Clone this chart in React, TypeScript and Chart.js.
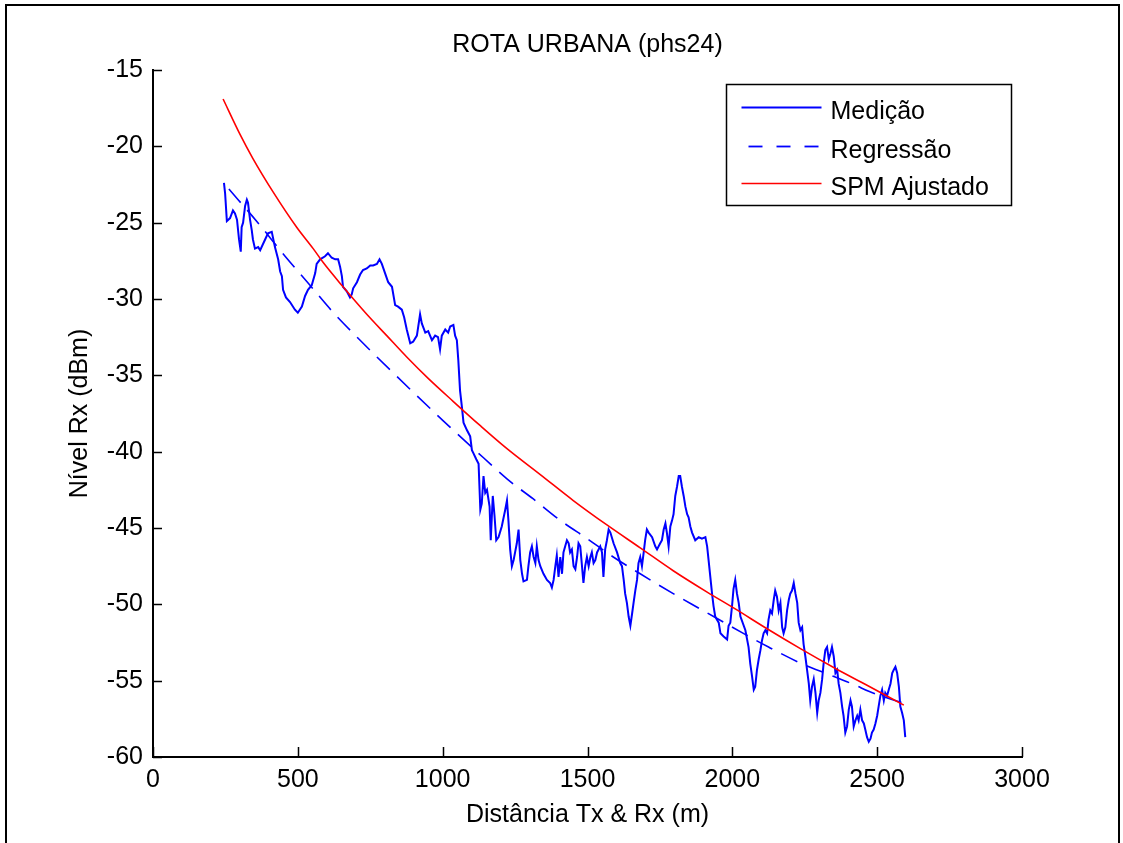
import React, { useEffect, useRef } from "react";
import { Chart, registerables } from "chart.js";

Chart.register(...registerables);

const FONT = '"Liberation Sans", Arial, Helvetica, sans-serif';

const TITLE = "ROTA URBANA (phs24)";
const X_TITLE = "Distância Tx & Rx (m)";
const Y_TITLE = "Nível Rx (dBm)";
const SERIES_NAMES = ["Medição", "Regressão", "SPM Ajustado"];

const X_MIN = 0, X_MAX = 3000, X_STEP = 500;
const Y_MIN = -60, Y_MAX = -15, Y_STEP = 5;

// Medição (measured) — distance (m)
const medDist = [
  245, 249, 255, 266, 276, 283, 290, 297, 303, 306,
  311, 318, 324, 328, 335, 341, 345, 352, 363, 370,
  387, 397, 410, 421, 432, 439, 445, 449, 459, 473,
  490, 500, 514, 525, 535, 548, 560, 565, 577, 594,
  604, 617, 629, 639, 646, 652, 656, 669, 680, 686,
  691, 704, 715, 725, 738, 750, 760, 773, 782, 790,
  801, 812, 825, 836, 846, 859, 867, 876, 888, 898,
  911, 922, 928, 940, 950, 963, 974, 984, 991, 997,
  1009, 1019, 1026, 1037, 1043, 1049, 1054, 1060, 1066, 1072,
  1084, 1095, 1101, 1106, 1116, 1124, 1130, 1135, 1141, 1147,
  1153, 1162, 1166, 1173, 1179, 1185, 1193, 1204, 1216, 1222,
  1227, 1233, 1239, 1245, 1250, 1256, 1262, 1268, 1274, 1279,
  1291, 1296, 1302, 1308, 1314, 1320, 1325, 1331, 1337, 1348,
  1360, 1371, 1377, 1383, 1389, 1394, 1400, 1406, 1412, 1417,
  1423, 1429, 1435, 1440, 1446, 1452, 1458, 1464, 1469, 1475,
  1481, 1486, 1492, 1498, 1504, 1510, 1515, 1521, 1527, 1533,
  1544, 1550, 1555, 1561, 1567, 1573, 1579, 1590, 1602, 1613,
  1619, 1625, 1630, 1636, 1642, 1648, 1654, 1659, 1665, 1671,
  1676, 1682, 1688, 1694, 1699, 1705, 1711, 1723, 1734, 1740,
  1751, 1757, 1763, 1769, 1774, 1780, 1786, 1792, 1797, 1803,
  1809, 1815, 1820, 1826, 1832, 1838, 1844, 1849, 1855, 1861,
  1872, 1884, 1895, 1907, 1913, 1918, 1924, 1930, 1935, 1941,
  1953, 1959, 1970, 1982, 1987, 1993, 1999, 2004, 2010, 2016,
  2022, 2028, 2045, 2056, 2062, 2068, 2074, 2079, 2085, 2091,
  2097, 2102, 2108, 2114, 2120, 2125, 2131, 2137, 2143, 2148,
  2154, 2160, 2166, 2172, 2177, 2183, 2189, 2195, 2200, 2206,
  2212, 2218, 2224, 2229, 2235, 2241, 2246, 2252, 2258, 2264,
  2269, 2275, 2281, 2287, 2293, 2298, 2304, 2310, 2315, 2321,
  2327, 2333, 2339, 2344, 2350, 2356, 2362, 2367, 2373, 2379,
  2384, 2390, 2396, 2402, 2408, 2413, 2419, 2425, 2431, 2436,
  2442, 2448, 2454, 2459, 2465, 2471, 2477, 2482, 2488, 2494,
  2500, 2505, 2511, 2517, 2523, 2528, 2534, 2540, 2546, 2552,
  2557, 2563, 2569, 2575, 2580, 2586, 2592, 2597,
];

// Medição — level (dBm)
const medLevel = [
  -22.4, -23.1, -24.9, -24.7, -24.2, -24.4, -24.8, -26.1, -26.9, -25.3,
  -25.0, -23.9, -23.5, -23.7, -24.8, -25.5, -26.1, -26.7, -26.6, -26.8,
  -26.1, -25.7, -25.6, -26.6, -27.4, -28.2, -28.5, -29.4, -29.9, -30.2,
  -30.7, -30.9, -30.5, -29.8, -29.4, -29.1, -28.3, -27.7, -27.4, -27.2,
  -27.0, -27.3, -27.4, -27.4, -27.9, -28.5, -29.2, -29.5, -29.9, -29.7,
  -29.3, -28.9, -28.4, -28.1, -28.0, -27.8, -27.8, -27.7, -27.4, -27.7,
  -28.3, -28.9, -29.2, -30.4, -30.5, -30.7, -31.2, -32.0, -32.9, -32.8,
  -32.4, -31.0, -31.6, -32.2, -32.1, -32.7, -32.4, -32.5, -33.3, -32.4,
  -32.0, -32.2, -31.8, -31.7, -32.4, -32.7, -34.0, -36.0, -37.0, -38.1,
  -38.6, -39.0, -39.9, -40.1, -40.5, -40.8, -43.8, -43.4, -41.6, -42.7,
  -42.5, -43.6, -45.8, -42.9, -44.2, -45.8, -45.6, -44.9, -43.8, -43.2,
  -44.5, -46.4, -47.5, -47.1, -46.6, -46.0, -45.1, -47.1, -48.0, -48.5,
  -48.4, -47.5, -46.6, -46.2, -46.9, -47.3, -46.2, -47.1, -47.5, -48.0,
  -48.4, -48.6, -48.9, -48.4, -47.5, -46.8, -48.2, -46.9, -48.0, -46.6,
  -46.2, -45.8, -46.0, -46.6, -46.4, -47.5, -47.7, -46.9, -46.0, -46.2,
  -47.5, -48.6, -47.5, -46.9, -47.5, -46.9, -46.6, -47.3, -47.1, -46.6,
  -46.2, -46.6, -48.2, -46.4, -45.8, -45.1, -45.3, -46.0, -46.6, -47.3,
  -47.5, -48.4, -49.3, -49.9, -50.8, -51.4, -50.6, -49.9, -49.1, -48.4,
  -47.3, -46.9, -47.5, -46.6, -45.8, -45.1, -45.3, -45.6, -46.2, -46.4,
  -46.0, -45.8, -45.1, -44.7, -45.3, -46.2, -44.9, -44.5, -44.1, -42.9,
  -42.3, -41.6, -41.6, -42.3, -42.9, -43.6, -44.1, -44.3, -44.9, -45.3,
  -45.8, -45.6, -45.7, -45.6, -46.2, -47.1, -48.2, -49.3, -50.1, -50.8,
  -51.2, -51.9, -52.1, -52.3, -51.4, -51.2, -50.1, -49.0, -48.4, -49.3,
  -49.9, -50.8, -51.7, -52.8, -53.9, -54.7, -55.6, -55.4, -54.3, -53.6,
  -53.0, -52.4, -51.9, -51.7, -51.9, -51.0, -50.4, -50.6, -49.7, -49.1,
  -49.5, -50.4, -49.9, -51.5, -51.9, -51.5, -50.4, -49.7, -49.3, -49.1,
  -48.6, -49.3, -49.9, -51.2, -51.7, -51.5, -52.6, -53.4, -54.3, -55.2,
  -56.3, -55.4, -54.9, -55.8, -57.1, -56.3, -55.8, -54.9, -53.9, -53.0,
  -52.8, -53.6, -53.2, -52.8, -53.4, -54.5, -54.3, -55.2, -55.8, -56.7,
  -57.3, -58.4, -58.0, -56.9, -56.3, -56.7, -58.0, -57.6, -57.3, -57.6,
  -56.9, -57.6, -57.8, -58.2, -58.7, -59.0, -58.8, -58.4, -58.2, -57.8,
  -57.3, -56.7, -56.0, -55.6, -56.3, -55.8, -56.0, -55.6, -55.2, -54.5,
  -54.3, -54.1, -54.5, -55.4, -56.7, -57.1, -57.6, -58.7,
];

// Regressão (dashed)
const regDist = [
  262, 362, 456, 542, 623, 715, 773, 1003, 1060, 1141,
  1223, 1313, 1406, 1499, 1589, 1682, 1796, 1889, 2038, 2125,
  2241, 2333, 2425, 2471, 2595,
];
const regLevel = [
  -22.8, -25.0, -27.2, -29.1, -30.9, -32.7, -33.8, -38.0, -39.0, -40.4,
  -41.8, -43.1, -44.5, -45.7, -46.9, -48.0, -49.3, -50.3, -51.9, -52.8,
  -53.9, -54.6, -55.3, -55.7, -56.5,
];

// SPM Ajustado (red)
const spmDist = [
  242, 300, 345, 415, 496, 553, 587, 656, 738, 807,
  876, 950, 1036, 1130, 1222, 1337, 1451, 1567, 1682, 1796,
  1913, 2010, 2120, 2235, 2356, 2465, 2592,
];
const spmLevel = [
  -16.9, -19.2, -20.8, -23.0, -25.3, -26.7, -27.6, -29.2, -31.0, -32.4,
  -33.8, -35.2, -36.7, -38.3, -39.8, -41.5, -43.2, -44.8, -46.3, -47.8,
  -49.2, -50.3, -51.6, -52.9, -54.2, -55.3, -56.6,
];

const COLORS = ["#0000ff", "#0000ff", "#ff0000"];

function pairs(xs: number[], ys: number[]) {
  const n = Math.min(xs.length, ys.length);
  const out: { x: number; y: number }[] = [];
  for (let i = 0; i < n; i++) out.push({ x: xs[i], y: ys[i] });
  return out;
}

const decorPlugin = {
  id: "matlabDecor",
  afterDraw(chart: any) {
    const ctx = chart.ctx as CanvasRenderingContext2D;
    const { left, right, top, bottom } = chart.chartArea;
    const xs = chart.scales.x;
    const ys = chart.scales.y;
    ctx.save();

    // inward tick marks
    ctx.strokeStyle = "#000";
    ctx.lineWidth = 1.5;
    ctx.beginPath();
    xs.ticks.forEach((t: any) => {
      const px = Math.round(xs.getPixelForValue(t.value)) + 0.5;
      ctx.moveTo(px, bottom);
      ctx.lineTo(px, bottom - 10);
    });
    ys.ticks.forEach((t: any) => {
      const py = Math.round(ys.getPixelForValue(t.value)) + 0.5;
      ctx.moveTo(left, py);
      ctx.lineTo(left + 9, py);
    });
    ctx.stroke();

    // titles
    ctx.fillStyle = "#000";
    ctx.font = `25px ${FONT}`;
    ctx.textAlign = "center";
    ctx.textBaseline = "alphabetic";
    ctx.fillText(TITLE, (left + right) / 2, 52);
    ctx.fillText(X_TITLE, (left + right) / 2, 822);
    ctx.save();
    ctx.translate(87, (top + bottom) / 2);
    ctx.rotate(-Math.PI / 2);
    ctx.fillText(Y_TITLE, 0, 0);
    ctx.restore();

    // legend
    const bx = right - 295.5;
    const by = top + 14.5;
    const bw = 285;
    const bh = 121;
    ctx.fillStyle = "#fff";
    ctx.fillRect(bx, by, bw, bh);
    ctx.strokeStyle = "#000";
    ctx.lineWidth = 1.5;
    ctx.strokeRect(bx, by, bw, bh);
    const rowY = [by + 23, by + 62, by + 99];
    const lineX0 = bx + 15;
    const lineX1 = bx + 95;
    ctx.font = `25px ${FONT}`;
    ctx.textAlign = "left";
    ctx.textBaseline = "alphabetic";
    SERIES_NAMES.forEach((name, i) => {
      ctx.strokeStyle = COLORS[i];
      ctx.lineWidth = i === 2 ? 1.5 : 1.8;
      ctx.setLineDash(i === 1 ? [14, 14] : []);
      ctx.lineDashOffset = i === 1 ? -7 : 0;
      ctx.beginPath();
      ctx.moveTo(lineX0, rowY[i]);
      ctx.lineTo(lineX1, rowY[i]);
      ctx.stroke();
      ctx.setLineDash([]);
      ctx.fillStyle = "#000";
      ctx.fillText(name, bx + 104, rowY[i] + 11);
    });

    // outer frame
    ctx.strokeStyle = "#000";
    ctx.lineWidth = 2;
    ctx.strokeRect(6, 5, 1113, 900);
    ctx.restore();
  },
};

export default function App() {
  const ref = useRef<HTMLCanvasElement | null>(null);

  useEffect(() => {
    if (!ref.current) return;
    const tickFont = { family: FONT, size: 25 };
    const chart = new Chart(ref.current, {
      type: "scatter",
      data: {
        datasets: [
          {
            label: SERIES_NAMES[0],
            data: pairs(medDist, medLevel),
            showLine: true,
            borderColor: COLORS[0],
            borderWidth: 2,
            pointRadius: 0,
            fill: false,
            tension: 0,
            order: 3,
          },
          {
            label: SERIES_NAMES[1],
            data: pairs(regDist, regLevel),
            showLine: true,
            borderColor: COLORS[1],
            borderWidth: 1.6,
            borderDash: [18, 10],
            pointRadius: 0,
            fill: false,
            cubicInterpolationMode: "monotone",
            order: 2,
          },
          {
            label: SERIES_NAMES[2],
            data: pairs(spmDist, spmLevel),
            showLine: true,
            borderColor: COLORS[2],
            borderWidth: 1.6,
            pointRadius: 0,
            fill: false,
            cubicInterpolationMode: "monotone",
            order: 1,
          },
        ],
      },
      options: {
        animation: false,
        responsive: false,
        devicePixelRatio: 1,
        layout: { padding: { top: 70, right: 101, left: 0, bottom: 0 } },
        plugins: {
          legend: { display: false },
          title: { display: false },
          tooltip: { enabled: false },
        },
        scales: {
          x: {
            type: "linear",
            min: X_MIN,
            max: X_MAX,
            grid: { display: false, drawTicks: false },
            border: { display: true, color: "#000", width: 2 },
            ticks: {
              stepSize: X_STEP,
              autoSkip: false,
              maxRotation: 0,
              padding: 8,
              color: "#000",
              font: tickFont,
              callback: (v: any) => String(v),
            },
            afterFit: (s: any) => {
              s.height = 86;
            },
          },
          y: {
            type: "linear",
            min: Y_MIN,
            max: Y_MAX,
            grid: { display: false, drawTicks: false },
            border: { display: true, color: "#000", width: 2 },
            ticks: {
              stepSize: Y_STEP,
              autoSkip: false,
              padding: 10,
              color: "#000",
              font: tickFont,
              callback: (v: any) => String(v),
            },
            afterFit: (s: any) => {
              s.width = 153;
            },
          },
        },
      },
      plugins: [decorPlugin],
    });
    return () => chart.destroy();
  }, []);

  return (
    <div
      style={{
        position: "fixed",
        left: 0,
        top: 0,
        width: 1123,
        height: 843,
        background: "#fff",
      }}
    >
      <canvas ref={ref} width={1123} height={843} style={{ width: 1123, height: 843 }} />
    </div>
  );
}
